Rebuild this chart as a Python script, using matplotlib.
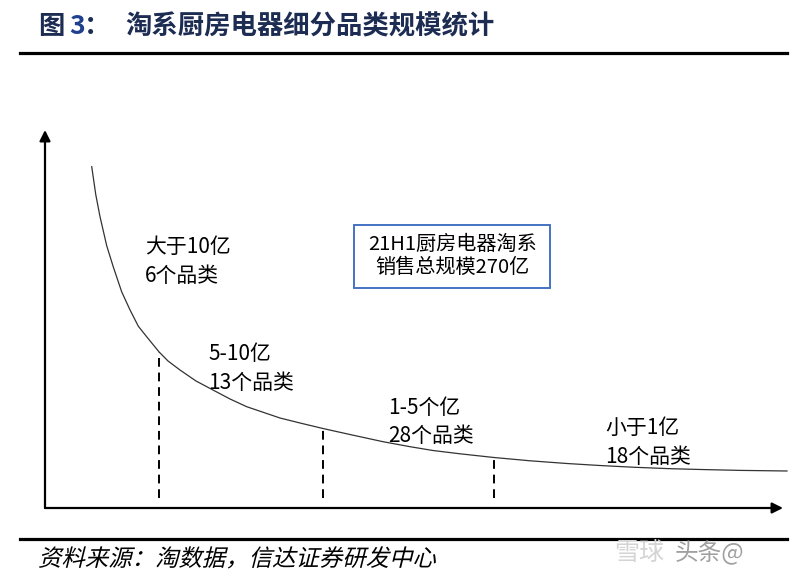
"""淘系厨房电器细分品类规模统计 示意图."""
import matplotlib
matplotlib.use("Agg")
import matplotlib.pyplot as plt
from matplotlib.lines import Line2D
from matplotlib.patches import Rectangle, PathPatch
from matplotlib.textpath import TextPath
from matplotlib.font_manager import FontProperties
from matplotlib.transforms import Affine2D, IdentityTransform

plt.rcParams["font.family"] = ["Noto Sans CJK SC", "DejaVu Sans"]

# 示意曲线 (0-100 相对刻度)
curve_x = [6.33, 6.88, 7.45, 8.36, 9.25, 10.39, 11.52, 12.64, 13.78, 15.45, 16.67, 18.29, 20.46, 22.76,
           25.07, 27.33, 31.84, 34.55, 37.67, 41.33, 45.80, 49.46, 52.57, 56.23, 60.84, 65.72, 70.73,
           75.20, 79.67, 84.69, 88.75, 94.17, 100.54]
curve_y = [90.3, 82.9, 77.1, 69.4, 63.8, 57.2, 52.4, 48.1, 45.3, 41.3, 38.89, 36.51, 33.60, 31.22,
           28.84, 26.80, 23.81, 22.49, 21.03, 19.44, 17.54, 16.22, 15.21, 14.34, 13.36, 12.49, 11.77,
           11.24, 10.79, 10.40, 10.19, 9.95, 9.79]

# 分段虚线位置 (与曲线交点)
split_x = [15.45, 37.67, 60.84]
split_y = [41.3, 21.03, 13.36]

seg_labels = ["大于10亿\n6个品类", "5-10亿\n13个品类", "1-5个亿\n28个品类", "小于1亿\n18个品类"]
seg_label_x = [13.55, 22.1, 46.5, 75.9]
seg_label_y = [65.2, 37.0, 22.75, 17.3]

box_text = "21H1厨房电器淘系\n销售总规模270亿"
source_text = "资料来源：淘数据，信达证券研发中心"

W, H = 799, 580
fig = plt.figure(figsize=(W / 100, H / 100), dpi=100)

# 图标题
title_color = "#1d2c52"
fig.text(38 / W, 1 - 27 / H, "图", fontsize=19, fontweight="bold", color=title_color, va="center")
fig.text(69 / W, 1 - 27 / H, "3", fontsize=19, fontweight="bold", color="#1f3f8f", va="center")
fig.text(84 / W, 1 - 27 / H, "：", fontsize=19, fontweight="bold", color=title_color, va="center")
fig.text(125 / W, 1 - 27 / H, "淘系厨房电器细分品类规模统计", fontsize=19, fontweight="bold",
         color=title_color, va="center")
fig.add_artist(Line2D([20 / W, 787 / W], [1 - 53 / H] * 2, lw=2.3, color="black"))
fig.add_artist(Line2D([20 / W, 787 / W], [1 - 539 / H] * 2, lw=2.3, color="black"))

# 资料来源 (斜体效果: 字形路径做剪切变换)
tp = TextPath((0, 0), source_text, size=23.4, prop=FontProperties(family="Noto Sans CJK SC"))
skew = Affine2D().skew_deg(14, 0).translate(38, H - 566)
fig.add_artist(PathPatch(tp, transform=skew + IdentityTransform(), facecolor="black", lw=0))

fig.text(614 / W, 1 - 553 / H, "雪球", fontsize=18, color="#d4d4d4", va="center")
fig.text(675 / W, 1 - 553 / H, "头条@", fontsize=17, color="#a0a0a0", va="center")

# 主绘图区: 原点在 (45, 508) 像素
ax = fig.add_axes([45 / W, (H - 508) / H, 738 / W, 378 / H])
ax.set_xlim(0, 100)
ax.set_ylim(0, 100)
ax.axis("off")

arrow = dict(arrowstyle="-|>", color="black", lw=1.6, mutation_scale=16, shrinkA=0, shrinkB=0)
ax.annotate("", xy=(0, 100), xytext=(0, 0), arrowprops=arrow, annotation_clip=False)
ax.annotate("", xy=(100, 0), xytext=(0, 0), arrowprops=arrow, annotation_clip=False)

ax.plot(curve_x, curve_y, color="#333333", lw=0.9, clip_on=False)
for sx, sy in zip(split_x, split_y):
    ax.plot([sx, sx], [2.6, sy], color="black", lw=1.4, ls=(0, (4.5, 3)))

for txt, tx, ty in zip(seg_labels, seg_label_x, seg_label_y):
    ax.text(tx, ty, txt, fontsize=15, va="center", ha="left", linespacing=1.4)

ax.add_patch(Rectangle((41.9, 58.2), 26.5, 16.7, fill=False, edgecolor="#4472c4", lw=1.4))
ax.text(55.2, 66.6, box_text, fontsize=14.5, va="center", ha="center", linespacing=1.1)

fig.savefig("out.png", dpi=100)
